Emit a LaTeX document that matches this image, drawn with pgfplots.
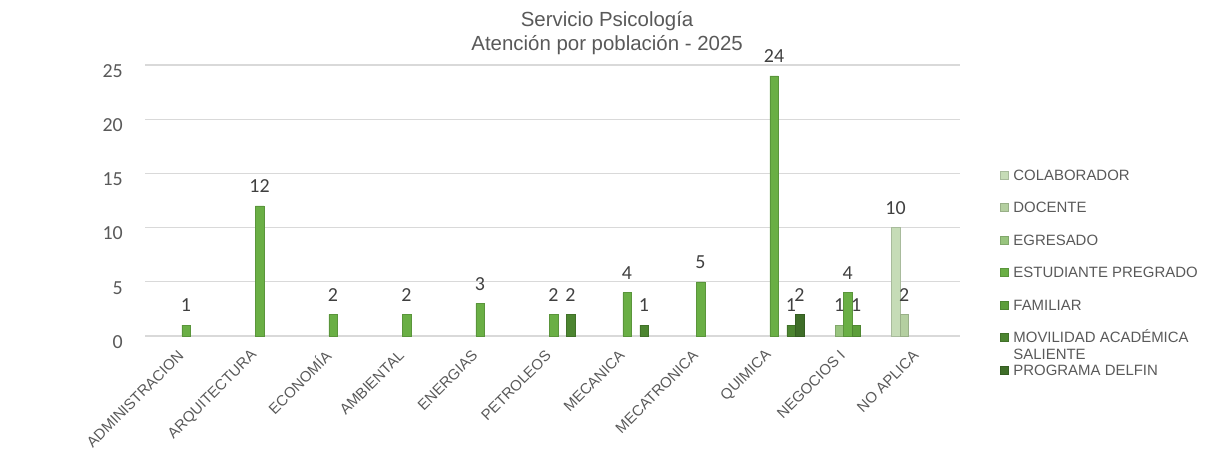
\documentclass[border=0pt]{standalone}
\usepackage{pgfplots}
\pgfplotsset{compat=1.18}
\usepackage{fontspec}
\setmainfont{Liberation Sans}
\newfontfamily\carlito{Carlito}
\definecolor{c1}{HTML}{C6DCB7}
\definecolor{c2}{HTML}{B4CFA0}
\definecolor{c3}{HTML}{98C47E}
\definecolor{c4}{HTML}{6AAF45}
\definecolor{c5}{HTML}{5C9E3A}
\definecolor{c6}{HTML}{4C8530}
\definecolor{c7}{HTML}{3E6D28}
\definecolor{txt}{HTML}{595959}
\definecolor{lbl}{HTML}{404040}
\definecolor{grd}{HTML}{D9D9D9}
\pgfplotsset{sq/.style={legend image code/.code={\fill[##1] (0bp,-4bp) rectangle (8bp,4bp);}}}
\begin{document}
\begin{tikzpicture}
\path[use as bounding box] (0,0) rectangle (1209bp,450bp);
\begin{axis}[
  at={(145bp,114bp)}, anchor=south west,
  scale only axis, width=815bp, height=271bp,
  xmin=-0.558, xmax=10.53, ymin=0, ymax=25,
  ybar=0pt, bar width=8.5bp,
  clip=false,
  axis line style={draw=none},
  major tick length=0pt,
  ymajorgrids, grid style={grd, line width=1.2bp},
  ytick={0,5,...,25},
  xtick={0,...,10},
  xticklabels={ADMINISTRACION,ARQUITECTURA,ECONOMÍA,AMBIENTAL,ENERGIAS,PETROLEOS,MECANICA,MECATRONICA,QUIMICA,NEGOCIOS I,NO APLICA},
  xticklabel style={font=\fontsize{15}{17}\selectfont, text=txt, inner sep=0pt, xshift=-5bp, yshift=-17bp, rotate=45, anchor=east},
  yticklabel style={font=\carlito\fontsize{20}{24}\selectfont, text=txt, inner sep=0pt, anchor=east, xshift=-22bp, yshift=-6bp},
  /pgf/number format/assume math mode=true,
  nodes near coords,
  nodes near coords style={font=\carlito\fontsize{20}{24}\selectfont, text=lbl, anchor=south, inner sep=0pt, yshift=13bp},
  title={Servicio Psicología\\Atención por población - 2025},
  title style={at={(0.567,1)}, anchor=south, align=center, inner sep=0pt, yshift=4bp,
    font=\fontsize{20.5}{24}\selectfont, text=txt},
  legend style={at={(1.049,0.622)}, anchor=north west, draw=none, fill=none,
    inner sep=0pt, outer sep=0pt, row sep=17.5bp, column sep=3bp,
    font=\fontsize{15}{17}\selectfont, text=txt,
    nodes={text height=11bp, text depth=0bp, inner sep=2bp}},
  legend cell align=left,
]
\addplot[sq, fill=c1, draw=c1!85!black, line width=0.5bp] coordinates {(10,10)};
\addplot[sq, fill=c2, draw=c2!85!black, line width=0.5bp] coordinates {(10,2)};
\addplot[sq, fill=c3, draw=c3!85!black, line width=0.5bp] coordinates {(9,1)};
\addplot[sq, fill=c4, draw=c4!85!black, line width=0.5bp] coordinates {(0,1) (1,12) (2,2) (3,2) (4,3) (5,2) (6,4) (7,5) (8,24) (9,4)};
\addplot[sq, fill=c5, draw=c5!85!black, line width=0.5bp] coordinates {(9,1)};
\addplot[sq, fill=c6, draw=c6!85!black, line width=0.5bp] coordinates {(5,2) (6,1) (8,1)};
\addplot[sq, fill=c7, draw=c7!85!black, line width=0.5bp] coordinates {(8,2)};
\addlegendentry{COLABORADOR}
\addlegendentry{DOCENTE}
\addlegendentry{EGRESADO}
\addlegendentry{ESTUDIANTE PREGRADO}
\addlegendentry{FAMILIAR}
\addlegendentry{\begin{tabular}[t]{@{}l@{}}MOVILIDAD ACADÉMICA\\SALIENTE\end{tabular}}
\addlegendentry{PROGRAMA DELFIN}
\end{axis}
\end{tikzpicture}
\end{document}
